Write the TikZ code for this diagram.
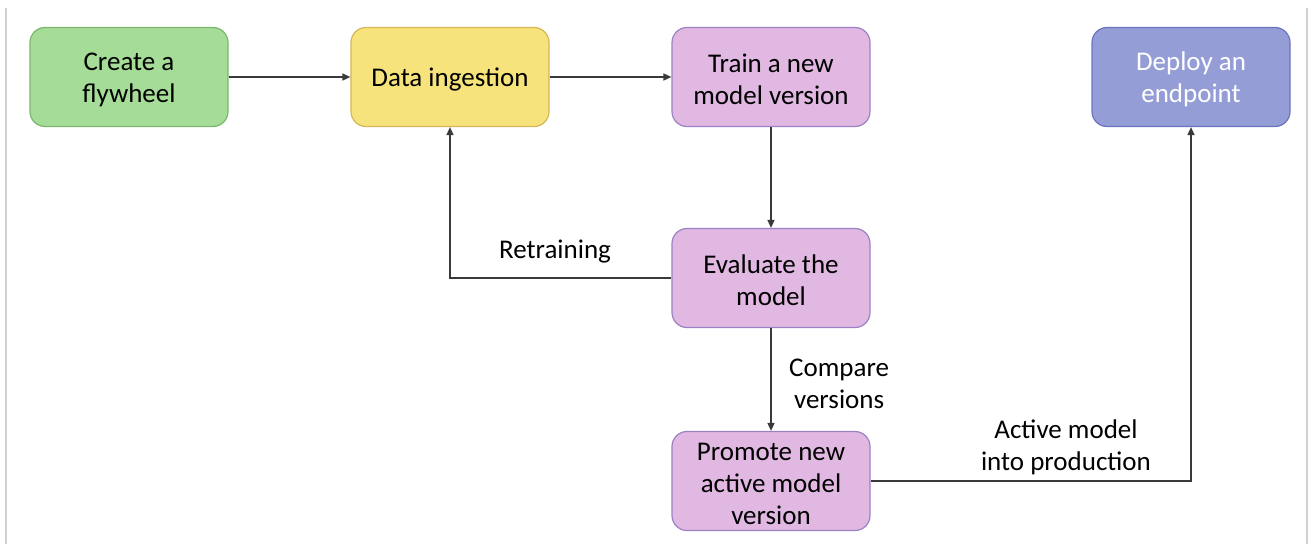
\documentclass[tikz,border=0pt]{standalone}
\usepackage{fontspec}
\setmainfont{Carlito}
\usetikzlibrary{arrows.meta}
\definecolor{gfill}{HTML}{A4DC98}
\definecolor{gdraw}{HTML}{7DB66F}
\definecolor{yfill}{HTML}{F6E37B}
\definecolor{ydraw}{HTML}{D6B656}
\definecolor{pfill}{HTML}{E1B8E2}
\definecolor{pdraw}{HTML}{9A82C4}
\definecolor{bfill}{HTML}{959DD7}
\definecolor{bdraw}{HTML}{6B74BE}
\definecolor{lcol}{HTML}{3A3A3A}
\definecolor{framecol}{HTML}{D0D0D0}
\begin{document}
\begin{tikzpicture}[x=1pt,y=-1pt,
  box/.style={rounded corners=15pt, line width=1.2pt, minimum width=198pt, minimum height=99pt,
    inner sep=0pt},
  boxtext/.style={font=\fontsize{27}{32}\selectfont, align=center, inner sep=0pt, yshift=-2.5pt},
  green/.style={box, fill=gfill, draw=gdraw},
  yellow/.style={box, fill=yfill, draw=ydraw},
  pink/.style={box, fill=pfill, draw=pdraw},
  blue/.style={box, fill=bfill, draw=bdraw},
  conn/.style={draw=lcol, line width=1.5pt, -{Triangle[length=8pt,width=7pt]}},
  lbl/.style={font=\fontsize{27}{32}\selectfont, align=center, inner sep=0pt}
]
\useasboundingbox (0,0) rectangle (1309,544);
\draw[framecol, line width=1.5pt] (6,8) -- (6,544);
\draw[framecol, line width=1.5pt] (1307,8) -- (1307,544);

\node[green,  label={[boxtext]center:Create a\\flywheel}]        (create)  at (129,77)  {};
\node[yellow, label={[boxtext]center:Data ingestion}]            (ingest)  at (450,77)  {};
\node[pink,   label={[boxtext]center:Train a new\\model version}] (train)   at (771,77)  {};
\node[blue,   label={[boxtext,text=white]center:Deploy an\\endpoint}] (deploy) at (1191,77) {};
\node[pink,   label={[boxtext]center:Evaluate the\\model}]        (eval)    at (771,278) {};
\node[pink,   label={[boxtext]center:Promote new\\active model\\version}] (promote) at (771,481) {};

\draw[conn] (create) -- (ingest);
\draw[conn] (ingest) -- (train);
\draw[conn] (train) -- (eval);
\draw[conn] (eval.west) -| (ingest.south);
\draw[conn] (eval) -- (promote);
\draw[conn] (promote.east) -| (deploy.south);

\node[lbl] (retrain) at (555,251.5) {Retraining};
\node[lbl, anchor=west] (compare) at (789,384) {Compare\\versions};
\node[lbl] (active) at (1066,447) {Active model\\into production};
\end{tikzpicture}
\end{document}
